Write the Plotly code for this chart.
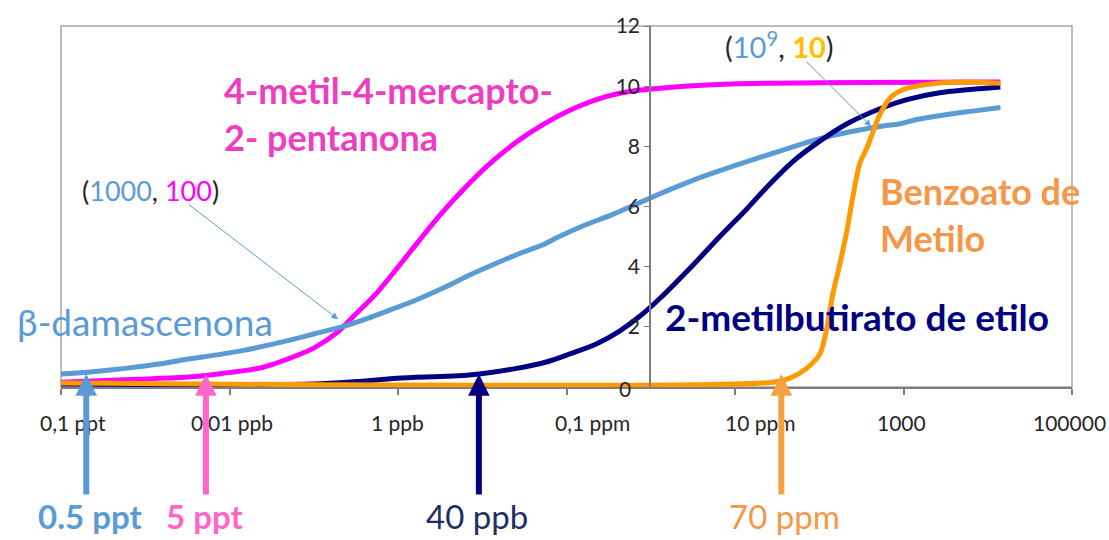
import plotly.graph_objects as go

# ---- data (x as log10 of concentration in ppb, y = intensity) ----
exp_mercapto = [-4.0, -3.09, -2.49, -2.09, -1.61, -1.31, -0.99, -0.71, -0.51, -0.27, -0.01, 0.26, 0.50,
                0.77, 1.06, 1.41, 1.72, 2.04, 2.43, 2.75, 3.11, 3.67, 4.45, 5.5, 7.15]
val_mercapto = [0.16, 0.26, 0.33, 0.45, 0.65, 0.93, 1.31, 1.84, 2.40, 3.07, 3.95, 4.90, 5.72,
                6.55, 7.35, 8.15, 8.72, 9.20, 9.62, 9.82, 9.93, 10.04, 10.10, 10.12, 10.14]

exp_damasc = [-4.0, -3.68, -3.39, -3.09, -2.77, -2.49, -2.17, -1.85, -1.54, -1.31, -0.99, -0.63, -0.36,
              -0.15, 0.23, 0.53, 0.85, 1.18, 1.48, 1.72, 1.89, 2.20, 2.55, 2.87, 3.19, 3.50, 3.82, 4.14,
              4.45, 4.77, 5.09, 5.40, 5.72, 5.96, 6.16, 6.52, 6.82, 7.15]
val_damasc = [0.43, 0.49, 0.57, 0.67, 0.79, 0.93, 1.06, 1.21, 1.39, 1.54, 1.77, 2.03, 2.28,
              2.50, 2.91, 3.28, 3.72, 4.13, 4.48, 4.73, 4.97, 5.36, 5.74, 6.13, 6.52, 6.87, 7.19, 7.49,
              7.77, 8.06, 8.31, 8.50, 8.66, 8.75, 8.89, 9.06, 9.17, 9.29]

exp_butir = [-4.0, -1.0, -0.5, -0.01, 0.85, 1.41, 1.77, 2.04, 2.36, 2.63, 2.87, 3.11, 3.50, 3.82,
             4.14, 4.38, 4.69, 5.01, 5.33, 5.72, 6.04, 6.43, 7.15]
val_butir = [0.10, 0.10, 0.18, 0.29, 0.40, 0.62, 0.84, 1.10, 1.44, 1.86, 2.35, 2.95, 4.05, 5.00,
             5.92, 6.65, 7.50, 8.18, 8.75, 9.25, 9.55, 9.78, 9.97]

exp_benzo = [-4.0, 4.45, 4.65, 4.85, 5.01, 5.09, 5.16, 5.25, 5.33, 5.40, 5.48, 5.57, 5.64, 5.72,
             5.84, 5.99, 6.23, 6.64, 7.15]
val_benzo = [0.13, 0.16, 0.29, 0.62, 1.11, 1.96, 3.07, 4.15, 5.23, 6.34, 7.42, 7.98, 8.50, 9.06,
             9.61, 9.88, 10.04, 10.14, 10.10]

tick_exps = [-4, -2, 0, 2, 4, 6, 8]
tick_labels = ["0,1 ppt", "0,01 ppb", "1 ppb", "0,1 ppm", "10 ppm", "1000", "100000"]
ytick_vals = [2, 4, 6, 8, 10, 12]

# threshold arrows (log10 conc) and their labels
threshold_exps = [-3.70, -2.28, 0.96, 4.55]
threshold_labels = ["0.5 ppt", "5 ppt", "40 ppb", "70 ppm"]

C_BLUE = "#5B9BD5"
C_MAG = "#FF00FF"
C_NAVY = "#000080"
C_ORANGE = "#FF9900"

FONT = "Lato"

# plot-area pixel geometry (for placing free text)
L, R, T, B = 61, 1072, 20, 387
def pxx(x):
    return (x - L) / (R - L)
def pyy(y):
    return (B - y) / (B - T)

fig = go.Figure()
for ex, vals, col in [(exp_mercapto, val_mercapto, C_MAG), (exp_damasc, val_damasc, C_BLUE),
                      (exp_butir, val_butir, C_NAVY), (exp_benzo, val_benzo, C_ORANGE)]:
    fig.add_trace(go.Scatter(x=[10 ** e for e in ex], y=vals, mode="lines",
                             line=dict(color=col, width=5, shape="spline", smoothing=0.8),
                             showlegend=False, hoverinfo="skip"))

ann = []
# x tick labels (placed as text, slightly offset like the original)
xlab_px = [73, 232, 397, 592, 760, 901, 1069]
for lab, xp in zip(tick_labels, xlab_px):
    ann.append(dict(x=pxx(xp), y=pyy(423), xref="paper", yref="paper", text=lab, showarrow=False,
                    font=dict(family=FONT, size=21, color="#262626"), xanchor="center", yanchor="middle"))
# y "0" label
ann.append(dict(x=pxx(625), y=pyy(403), xref="paper", yref="paper", text="0", showarrow=False,
                font=dict(family=FONT, size=21, color="#262626")))

# threshold arrows
arrow_cols = [C_BLUE, "#FF66CC", C_NAVY, "#F7A040"]
for e, col in zip(threshold_exps, arrow_cols):
    ann.append(dict(x=e, y=0.43, xref="x", yref="y", text="", showarrow=True, ax=0, ay=122,
                    arrowhead=2, arrowwidth=6, arrowsize=0.72, arrowcolor=col, standoff=0))
lab_px = [90, 204, 477, 784]
lab_cols = [C_BLUE, "#FF66CC", "#1F2F5F", "#F79646"]
lab_bold = [True, True, False, False]
for t, xp, col, b in zip(threshold_labels, lab_px, lab_cols, lab_bold):
    ann.append(dict(x=pxx(xp), y=pyy(518), xref="paper", yref="paper",
                    text=f"<b>{t}</b>" if b else t, showarrow=False,
                    font=dict(family=FONT, size=33, color=col), xanchor="center", yanchor="middle"))

# curve labels
ann.append(dict(x=pxx(222), y=pyy(109), xref="paper", yref="paper", xanchor="left", yanchor="middle",
                align="left", text="<b>4-metil-4-mercapto-<br>2- pentanona</b>", showarrow=False,
                font=dict(family=FONT, size=36, color="#EE3DBF")))
ann.append(dict(x=pxx(145), y=pyy(320), xref="paper", yref="paper", xanchor="center", yanchor="middle",
                text="β-damascenona", showarrow=False, font=dict(family=FONT, size=37, color=C_BLUE)))
ann.append(dict(x=pxx(878), y=pyy(212), xref="paper", yref="paper", xanchor="left", yanchor="middle",
                align="left", text="<b>Benzoato de<br>Metilo</b>", showarrow=False,
                font=dict(family=FONT, size=36, color="#F79646")))
ann.append(dict(x=pxx(663), y=pyy(315), xref="paper", yref="paper", xanchor="left", yanchor="middle",
                text="<b>2-metilbutirato de etilo</b>", showarrow=False,
                font=dict(family=FONT, size=37, color=C_NAVY)))
ann.append(dict(x=pxx(150), y=pyy(187), xref="paper", yref="paper", xanchor="center", yanchor="middle",
                text=f"(<span style='color:{C_BLUE}'>1000</span>, <span style='color:{C_MAG}'>100</span>)",
                showarrow=False, font=dict(family=FONT, size=27, color="#262626")))
ann.append(dict(x=pxx(779), y=pyy(39), xref="paper", yref="paper", xanchor="center", yanchor="middle",
                text=f"(<span style='color:{C_BLUE}'>10<sup>9</sup></span>, <b><span style='color:#FFC000'>10</span></b>)",
                showarrow=False, font=dict(family=FONT, size=29, color="#262626")))
# leader arrows
ann.append(dict(x=pxx(338), y=pyy(318), xref="paper", yref="paper", text="", showarrow=True,
                ax=187 - 338, ay=202 - 318, arrowhead=2, arrowwidth=1, arrowsize=1.3,
                arrowcolor=C_BLUE, standoff=0))
ann.append(dict(x=pxx(871), y=pyy(122), xref="paper", yref="paper", text="", showarrow=True,
                ax=805 - 871, ay=56 - 122, arrowhead=2, arrowwidth=1, arrowsize=1.3,
                arrowcolor=C_BLUE, standoff=0))

fig.update_layout(
    width=1109, height=540,
    margin=dict(l=L, r=1109 - R, t=T, b=540 - B),
    paper_bgcolor="white", plot_bgcolor="white",
    annotations=ann,
    shapes=[dict(type="rect", xref="paper", yref="paper", x0=0, x1=1, y0=0, y1=1,
                 line=dict(color="#A6A6A6", width=1.5), layer="below")],
    xaxis=dict(type="log", range=[-4, 8], tickvals=[10 ** e for e in tick_exps], showticklabels=False,
               ticks="outside", ticklen=6, tickcolor="#7F7F7F", tickwidth=1.5, showline=True,
               linecolor="#7F7F7F", linewidth=1.5, showgrid=False, zeroline=False),
    yaxis=dict(range=[0, 12], tickvals=ytick_vals, ticks="outside", ticklen=5, tickcolor="#7F7F7F",
               anchor="free", position=pxx(650), showline=True, linecolor="#7F7F7F", linewidth=1.5,
               showgrid=False, zeroline=False,
               tickfont=dict(family=FONT, size=21, color="#262626")),
)

fig.write_html("out.html")
